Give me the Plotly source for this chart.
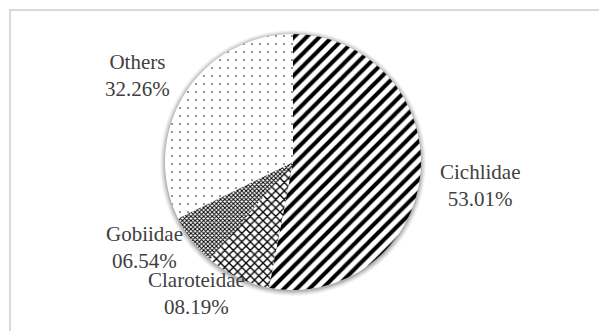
import plotly.graph_objects as go

families = ["Cichlidae", "Claroteidae", "Gobiidae", "Others"]
percent = [53.01, 8.19, 6.54, 32.26]
pct_labels = ["53.01%", "08.19%", "06.54%", "32.26%"]

# label placement (pixel centres) and styles
label_pos = {"Cichlidae": (480, 185), "Claroteidae": (196, 293),
             "Gobiidae": (144, 247), "Others": (137, 76)}
pattern_shapes = ["/", "x", "x", "."]
pattern_sizes = [9, 6, 3, 8]
pattern_solidity = [0.45, 0.4, 0.55, 0.03]

W, H = 599, 331
cx, cy, r = 293, 162, 128

def px(x):
    return x / W

def py(y):
    return 1 - y / H

fig = go.Figure(go.Pie(
    labels=families, values=percent, sort=False, direction="clockwise",
    rotation=0, textinfo="none", hoverinfo="label+percent",
    marker=dict(colors=["white"] * 4, line=dict(width=0),
                pattern=dict(shape=pattern_shapes, size=pattern_sizes,
                             solidity=pattern_solidity, fgcolor="black",
                             bgcolor="white", fillmode="replace")),
    domain=dict(x=[px(cx - r), px(cx + r)], y=[py(cy + r), py(cy - r)]),
    showlegend=False,
))

shapes = []
for k, op in [(5, 0.04), (4, 0.05), (3, 0.06), (2, 0.08), (1, 0.1)]:
    shapes.append(dict(type="circle", xref="paper", yref="paper",
                       x0=px(cx - r - k), x1=px(cx + r + k),
                       y0=py(cy + r + k + 1), y1=py(cy - r - k + 1),
                       fillcolor=f"rgba(0,0,0,{op})", line=dict(width=0),
                       layer="below"))
shapes.append(dict(type="rect", xref="paper", yref="paper",
                   x0=px(10), x1=1.2, y0=-0.2, y1=py(10),
                   line=dict(color="#d9d9d9", width=2)))

annotations = []
for fam, lab in zip(families, pct_labels):
    x, y = label_pos[fam]
    annotations.append(dict(text=f"{fam}<br>{lab}", x=px(x), y=py(y),
                            xref="paper", yref="paper", showarrow=False,
                            xanchor="center", yanchor="middle", align="center",
                            font=dict(family="'Liberation Serif', 'Times New Roman', serif",
                                      size=21, color="#404040")))

fig.update_layout(width=W, height=H, margin=dict(l=0, r=0, t=0, b=0),
                  paper_bgcolor="white", plot_bgcolor="white",
                  shapes=shapes, annotations=annotations)
fig.write_html("out.html")
